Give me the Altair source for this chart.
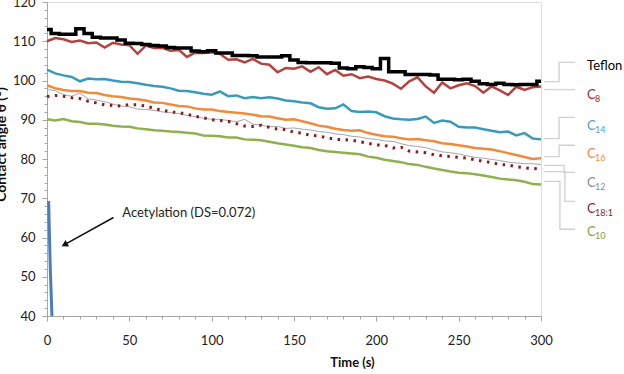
import altair as alt
import pandas as pd

TIME = list(range(0, 301, 5))

TEFLON = [113.0, 112.0, 111.8, 111.8, 113.2, 112.0, 111.0, 110.8, 110.8, 110.3, 109.5, 109.4, 109.2,
          108.9, 108.8, 108.4, 108.3, 108.3, 107.5, 107.3, 107.6, 107.0, 107.0, 106.4, 106.4, 106.3,
          106.0, 106.0, 106.0, 106.3, 105.2, 104.6, 104.5, 104.5, 104.5, 104.4, 103.2, 103.0, 103.5,
          103.3, 103.0, 105.6, 102.2, 102.2, 101.5, 101.5, 101.5, 101.4, 100.3, 100.3, 100.2, 100.3,
          99.8, 99.2, 99.0, 99.3, 99.0, 98.9, 99.0, 99.0, 99.8]
C8 = [110.0, 110.8, 110.5, 109.8, 110.2, 109.5, 109.7, 108.4, 109.6, 109.2, 109.0, 106.8, 108.9,
      108.3, 108.3, 107.6, 107.8, 106.0, 107.1, 107.0, 107.2, 106.8, 105.3, 105.4, 104.6, 105.5,
      104.3, 104.0, 102.1, 103.2, 103.0, 103.6, 102.2, 103.4, 101.6, 102.7, 101.2, 101.6, 100.6,
      101.0, 100.4, 100.0, 99.2, 97.9, 99.8, 100.8, 98.5, 96.9, 99.5, 98.0, 98.8, 99.3, 98.6, 96.9,
      98.5, 97.5, 96.3, 98.4, 97.6, 98.3, 98.5]
C14 = [102.8, 101.8, 101.3, 100.9, 99.8, 100.5, 100.3, 100.4, 100.0, 99.7, 99.6, 99.3, 98.9, 98.6,
       98.4, 98.0, 97.4, 97.3, 97.0, 96.6, 96.4, 97.2, 96.0, 96.2, 95.5, 95.8, 95.5, 95.7, 95.4, 94.9,
       94.7, 94.4, 94.2, 93.2, 92.8, 92.9, 93.9, 92.2, 92.0, 92.1, 91.9, 90.9, 90.3, 90.1, 90.0, 90.2,
       90.8, 89.2, 89.8, 89.5, 88.2, 88.0, 88.0, 87.6, 87.2, 86.8, 87.0, 86.0, 86.6, 85.2, 85.0]
C16 = [98.8, 98.0, 97.6, 97.3, 97.3, 96.9, 96.8, 96.3, 96.0, 95.8, 95.4, 95.2, 94.9, 94.4, 94.3,
       93.9, 93.5, 93.4, 92.9, 92.6, 92.6, 92.2, 92.0, 91.8, 91.6, 91.3, 90.9, 90.8, 90.4, 90.0, 90.1,
       89.6, 89.1, 88.5, 88.2, 87.7, 87.4, 87.2, 87.3, 86.6, 86.2, 85.8, 85.7, 85.3, 85.0, 85.1, 84.8,
       84.5, 84.0, 83.8, 83.5, 83.2, 82.8, 82.6, 82.4, 82.0, 81.5, 81.0, 80.5, 80.0, 80.2]
C12 = [97.7, 97.4, 96.4, 96.0, 96.8, 95.3, 95.0, 94.6, 94.0, 93.5, 93.3, 92.7, 92.6, 92.4, 92.0,
       91.8, 91.6, 91.1, 90.8, 90.4, 90.1, 90.1, 89.8, 89.5, 90.1, 88.9, 88.6, 88.2, 88.3, 87.8, 87.9,
       87.6, 87.4, 87.0, 86.8, 86.4, 86.2, 85.8, 85.6, 85.2, 85.0, 84.6, 84.5, 83.9, 83.4, 83.2, 82.9,
       82.3, 81.8, 81.6, 81.3, 80.8, 80.4, 80.2, 79.9, 79.6, 79.2, 79.0, 78.8, 78.8, 78.6]
C18_1 = [95.9, 96.2, 96.0, 95.6, 95.4, 94.7, 94.3, 93.8, 93.6, 93.5, 93.9, 93.8, 93.5, 92.9, 92.4,
         92.0, 91.8, 91.4, 90.9, 90.5, 90.0, 89.8, 89.6, 89.0, 88.4, 88.3, 88.6, 88.1, 87.6, 87.5,
         86.8, 86.6, 86.0, 85.9, 85.4, 85.0, 84.9, 84.8, 84.4, 84.0, 83.6, 83.5, 82.8, 83.0, 82.0,
         81.8, 81.6, 81.1, 80.8, 80.6, 80.4, 80.2, 79.8, 79.4, 79.1, 78.6, 78.5, 78.0, 77.8, 77.5, 77.6]
C10 = [90.1, 89.8, 90.2, 89.6, 89.4, 89.0, 89.0, 88.8, 88.5, 88.3, 88.2, 87.8, 87.6, 87.3, 87.2,
       87.0, 86.9, 86.7, 86.5, 86.0, 85.9, 85.8, 85.5, 85.5, 85.0, 84.9, 84.8, 84.4, 84.0, 83.7, 83.4,
       83.0, 82.8, 82.3, 82.0, 81.8, 81.6, 81.4, 81.2, 80.6, 80.3, 79.8, 79.5, 79.2, 78.7, 78.5, 78.0,
       77.6, 77.2, 76.8, 76.5, 76.4, 76.1, 75.8, 75.4, 75.0, 74.8, 74.6, 74.2, 73.6, 73.5]

ACETYL_T = [1.0, 1.4, 2.0, 3.0]
ACETYL_V = [69.3, 62.0, 52.0, 40.0]

SERIES = {"Teflon": TEFLON, "C8": C8, "C14": C14, "C16": C16, "C12": C12, "C18:1": C18_1, "C10": C10}

LABEL_MAIN = ["Teflon", "C", "C", "C", "C", "C", "C"]
LABEL_SUB = ["", "8", "14", "16", "12", "18:1", "10"]
LABEL_V = [103.6, 96.4, 88.4, 81.2, 74.0, 67.2, 61.4]
LABEL_T = 328.0
LABEL_COLORS = ["#000000", "#A8262E", "#4F9BD0", "#EE8B3A", "#8C8C8C", "#8E1B2A", "#86A043"]

# leader lines (elbow connectors), one path per label
LEADER_T = [[302, 311, 311, 320.7], [302, 320.7], [302, 311, 311, 320.7], [302, 311, 311, 320.7],
            [302, 314, 314, 320.7], [302, 314.5, 314.5, 320.7], [302, 311.5, 311.5, 320.7]]
LEADER_V = [[99.7, 99.7, 104.6, 104.6], [97.7, 97.7], [85.2, 85.2, 90.6, 90.6], [80.6, 80.6, 83.5, 83.5],
            [78.4, 78.4, 76.6, 76.6], [76.8, 76.8, 69.2, 69.2], [74.3, 74.3, 62.1, 62.1]]

ANNOT_TEXT = "Acetylation (DS=0.072)"
ANNOT_T, ANNOT_V = 45.7, 66.2
ARROW_T = [40.4, 11.2]
ARROW_V = [65.1, 58.3]

FONT = "Lato"

rows = []
for name, vals in SERIES.items():
    for t, v in zip(TIME, vals):
        rows.append({"t": t, "v": v, "series": name})
df = pd.DataFrame(rows)

acetyl_df = pd.DataFrame({"t": ACETYL_T, "v": ACETYL_V})

lead_rows = []
for i, (ts, vs) in enumerate(zip(LEADER_T, LEADER_V)):
    for j, (t, v) in enumerate(zip(ts, vs)):
        lead_rows.append({"t": t, "v": v, "grp": i, "ord": j})
lead_df = pd.DataFrame(lead_rows)

label_df = pd.DataFrame({"t": [LABEL_T] * 7, "v": LABEL_V, "main": LABEL_MAIN,
                         "sub": LABEL_SUB, "col": LABEL_COLORS})
sub_df = label_df[label_df["sub"] != ""]

annot_df = pd.DataFrame({"t": [ANNOT_T], "v": [ANNOT_V], "txt": [ANNOT_TEXT]})
arrow_df = pd.DataFrame({"t": [ARROW_T[0]], "v": [ARROW_V[0]], "t2": [ARROW_T[1]], "v2": [ARROW_V[1]]})
tip_df = pd.DataFrame({"t": [ARROW_T[1]], "v": [ARROW_V[1]]})

AXIS_GRAY = "#A6A6A6"
xaxis = alt.Axis(
    values=list(range(0, 301, 10)),
    labelExpr="datum.value % 50 === 0 ? datum.label : ''",
    tickSize={"condition": {"test": "datum.value % 50 === 0", "value": 5}, "value": 3},
    grid=False, domainColor=AXIS_GRAY, tickColor=AXIS_GRAY, labelFont=FONT, labelFontSize=13,
    labelColor="#222222", labelPadding=13, title="Time (s)", titleFont=FONT, titleFontSize=13,
    titleFontWeight="bold", titleColor="#111111", titleX=305, titleY=46, titleBaseline="middle",
    labelFlush=False,
)
yaxis = alt.Axis(
    values=list(range(40, 121, 2)),
    labelExpr="datum.value % 10 === 0 ? datum.label : ''",
    tickSize={"condition": {"test": "datum.value % 10 === 0", "value": 5}, "value": 3},
    grid=False, domainColor=AXIS_GRAY, tickColor=AXIS_GRAY, labelFont=FONT, labelFontSize=13,
    labelColor="#222222", labelPadding=7, title="Contact angle θ (°)", titleFont=FONT,
    titleFontSize=14, titleFontWeight="bold", titleColor="#111111", titleX=-39, titleY=142,
    titleAlign="center", titleAngle=270, titleBaseline="bottom",
)
xs = alt.Scale(domain=[0, 300], nice=False, zero=False)
ys = alt.Scale(domain=[40, 120], nice=False, zero=False)
X = alt.X("t:Q", scale=xs, axis=xaxis)
Y = alt.Y("v:Q", scale=ys, axis=yaxis)

STYLE = {
    "C10": dict(color="#8FB04E", strokeWidth=2.5),
    "C12": dict(color="#A6A6A6", strokeWidth=1),
    "C18:1": dict(color="#8B1A1A", strokeWidth=3, strokeDash=[2.5, 5.5]),
    "C16": dict(color="#F08A3C", strokeWidth=2.5),
    "C14": dict(color="#3A9BB8", strokeWidth=2.5),
    "C8": dict(color="#B2433F", strokeWidth=2.5),
    "Teflon": dict(color="#000000", strokeWidth=3.5, interpolate="step"),
}

layers = [
    alt.Chart(acetyl_df).mark_line(color="#4A7EBB", strokeWidth=3).encode(x=X, y=Y)
]
for name in ["C10", "C12", "C18:1", "C16", "C14", "C8", "Teflon"]:
    layers.append(
        alt.Chart(df).transform_filter(alt.datum.series == name)
        .mark_line(**STYLE[name]).encode(x=X, y=Y, order="t:Q")
    )

layers.append(
    alt.Chart(lead_df).mark_line(color="#D0D0D0", strokeWidth=1.3).encode(
        x=X, y=Y, detail="grp:N", order="ord:Q")
)
layers.append(
    alt.Chart(label_df).mark_text(align="left", baseline="middle", font=FONT, fontSize=13).encode(
        x=X, y=Y, text="main:N", color=alt.Color("col:N", scale=None))
)
layers.append(
    alt.Chart(sub_df).mark_text(align="left", baseline="middle", font=FONT, fontSize=9, dx=8, dy=4).encode(
        x=X, y=Y, text="sub:N", color=alt.Color("col:N", scale=None))
)
layers.append(
    alt.Chart(annot_df).mark_text(align="left", baseline="middle", font=FONT, fontSize=13, color="#222222").encode(
        x=X, y=Y, text="txt:N")
)
layers.append(
    alt.Chart(arrow_df).mark_rule(color="#111111", strokeWidth=1.5).encode(
        x=X, y=Y, x2="t2:Q", y2="v2:Q")
)
layers.append(
    alt.Chart(tip_df).mark_point(shape="triangle", filled=True, color="#111111", size=55, angle=241, opacity=1).encode(
        x=X, y=Y)
)

chart = alt.layer(*layers).properties(
    width=494, height=314,
    autosize=alt.AutoSizeParams(type="none"),
    padding={"left": 47, "top": 2, "right": 83, "bottom": 58},
).configure_view(stroke=None).configure(background="white")

chart.save("out.html", embed_options={"renderer": "svg", "actions": False})
